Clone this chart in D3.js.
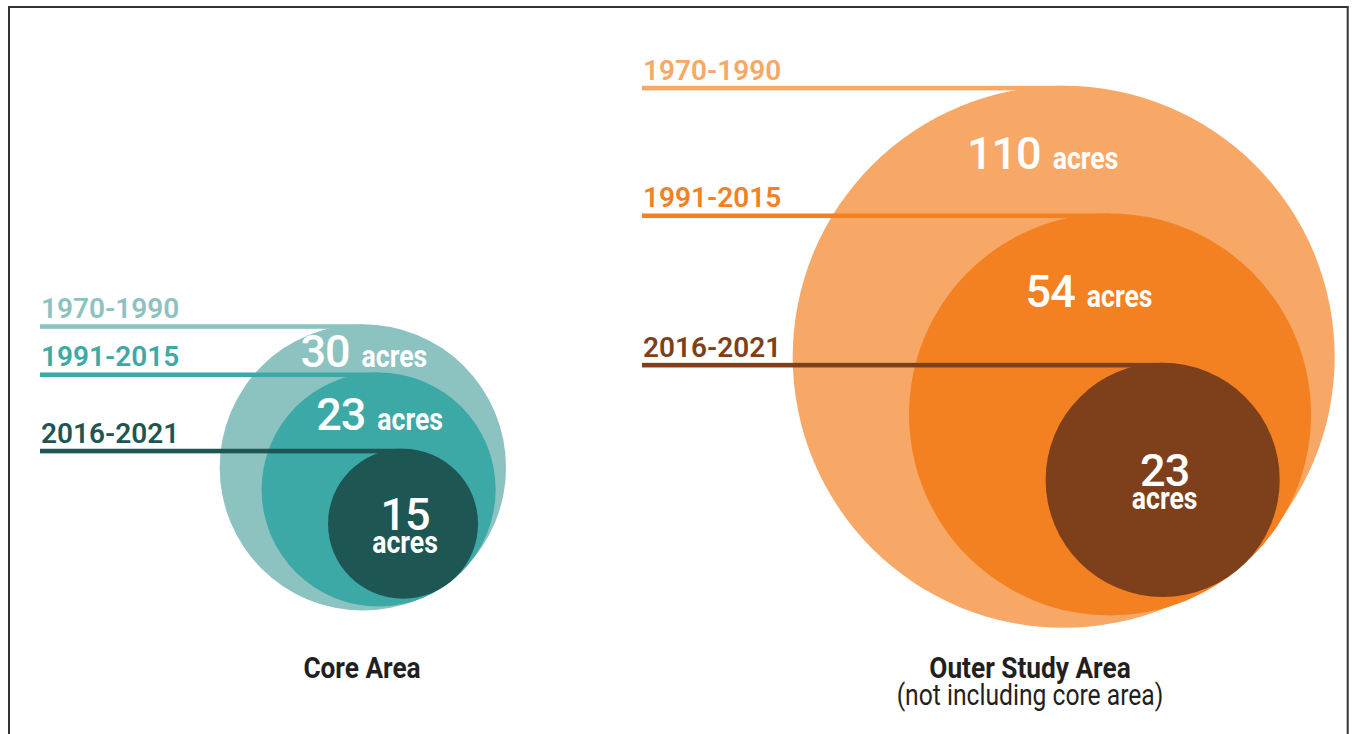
<!DOCTYPE html>
<html>
<head>
<meta charset="utf-8">
<script src="https://cdn.jsdelivr.net/npm/d3@7/dist/d3.min.js"></script>
<style>
  body { margin: 0; background: #fff; }
  svg { display: block; }
  text { font-family: Roboto, "Liberation Sans", sans-serif; }
</style>
</head>
<body>
<svg id="chart" width="1353" height="734"></svg>
<script>
// data
var periods = ['1970-1990', '1991-2015', '2016-2021'];
var areaNames = ['Core Area', 'Outer Study Area'];
var areaNotes = ['', '(not including core area)'];
var coreAcres = [30, 23, 15];
var outerAcres = [110, 54, 23];

// styles
var coreColors = ['#8cc3c1', '#3da9a6', '#1e5653'];
var outerColors = ['#f7a866', '#f38121', '#7e3f1b'];
var NARROW = 0.86;   // the original type is a condensed face

// layout for each group: the point where the circles touch, and the direction to it
var layouts = [
  { tx: 446, ty: 584, angle: 54.5, overhang: 1, lineX: 40, labelX: 41, valueDx: 1, titleX: 362 },
  { tx: 1233.5, ty: 568, angle: 51.2, overhang: 4, lineX: 642, labelX: 643, valueDx: -21, titleX: 1030 }
];

var svg = d3.select('#chart');

// frame
svg.append('rect')
  .attr('x', 9).attr('y', 7)
  .attr('width', 1338.7).attr('height', 800)
  .attr('fill', 'none')
  .attr('stroke', '#333')
  .attr('stroke-width', 2);

var radius = d3.scaleLog()
  .domain(d3.extent(coreAcres.concat(outerAcres)))
  .range([75, 271]);

var groups = [
  { values: coreAcres, colors: coreColors },
  { values: outerAcres, colors: outerColors }
];

// a condensed text, drawn at (x, y)
function narrowText(parent, x, y, str, size, weight, anchor, sx) {
  return parent.append('text')
    .attr('transform', 'translate(' + x + ',' + y + ') scale(' + (sx || NARROW) + ',1)')
    .attr('text-anchor', anchor || 'start')
    .style('font-size', size + 'px')
    .style('font-weight', weight)
    .text(str);
}

groups.forEach(function(g, gi) {
  var L = layouts[gi];
  var a = L.angle * Math.PI / 180;
  var ux = Math.cos(a), uy = Math.sin(a);

  var circles = g.values.map(function(v, i) {
    var r = radius(v);
    var d = i === 0 ? 0 : L.overhang;
    return {
      v: v, r: r, period: periods[i], color: g.colors[i],
      cx: L.tx + d * ux - r * ux,
      cy: L.ty + d * uy - r * uy
    };
  });

  var layer = svg.append('g');

  circles.forEach(function(c) {
    var top = c.cy - c.r;
    layer.append('circle')
      .attr('cx', c.cx).attr('cy', c.cy).attr('r', c.r)
      .attr('fill', c.color);
    layer.append('rect')
      .attr('x', L.lineX).attr('y', top)
      .attr('width', c.cx - L.lineX).attr('height', 4.6)
      .attr('fill', c.color);
    layer.append('text')
      .attr('x', L.labelX).attr('y', top - 6)
      .attr('fill', c.color)
      .style('font-size', '28px')
      .style('font-weight', 600)
      .text(c.period);
  });

  // value labels
  circles.forEach(function(c, i) {
    var lab = layer.append('g').attr('fill', '#fff');
    if (i < circles.length - 1) {
      var nxt = circles[i + 1];
      var y = ((c.cy - c.r) + (nxt.cy - nxt.r)) / 2 + 19;
      var num = lab.append('text')
        .style('font-size', '45px').style('font-weight', 500)
        .style('letter-spacing', '-1px')
        .text(c.v);
      var nw = num.node().getComputedTextLength();
      var ac = narrowText(lab, nw + 12, 0, 'acres', 31, 700);
      var total = nw + 12 + ac.node().getComputedTextLength() * NARROW;
      lab.attr('transform', 'translate(' + (c.cx + L.valueDx - total / 2) + ',' + y + ')');
    } else {
      lab.append('text')
        .attr('x', c.cx + 2).attr('y', c.cy + 6)
        .attr('text-anchor', 'middle')
        .style('font-size', '45px').style('font-weight', 500)
        .style('letter-spacing', '-1px')
        .text(c.v);
      narrowText(lab, c.cx + 2, c.cy + 29, 'acres', 31, 700, 'middle');
    }
  });

  // titles
  var tg = svg.append('g').attr('fill', '#231f20');
  narrowText(tg, L.titleX, 678, areaNames[gi], 30, 700, 'middle', 0.875);
  if (areaNotes[gi]) {
    narrowText(tg, L.titleX, 705, areaNotes[gi], 29, 400, 'middle', 0.85);
  }
});
</script>
</body>
</html>
